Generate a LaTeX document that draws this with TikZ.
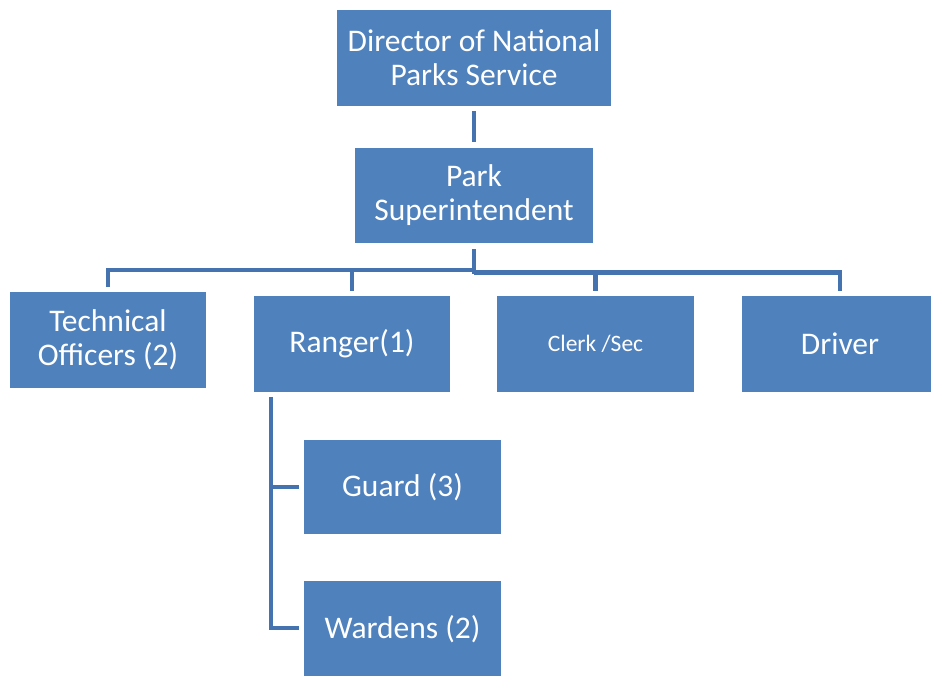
\documentclass[tikz,border=0pt]{standalone}
\usepackage{fontspec}
\setmainfont{Carlito}
\definecolor{boxblue}{HTML}{4F81BD}
\definecolor{lineblue}{HTML}{4473B0}
\begin{document}
\begin{tikzpicture}[x=1pt,y=1pt,
  box/.style={fill=boxblue,draw=none,text=white,align=center,inner sep=0pt,
    font=\fontsize{31.5}{34}\selectfont},
  conn/.style={draw=lineblue,line width=4.8pt}]
\clip (0,0) rectangle (931,675);
\fill[white] (0,0) rectangle (931,675);
\node[box,minimum width=274,minimum height=96] (dir) at (474,617) {Director of National\\Parks Service};
\node[box,minimum width=238,minimum height=95] (sup) at (474,479.5) {Park\\Superintendent};
\node[box,minimum width=196,minimum height=96] (tech) at (108,335) {Technical\\Officers (2)};
\node[box,minimum width=196,minimum height=96] (ranger) at (352,331) {Ranger(1)};
\node[box,minimum width=197,minimum height=96,font=\fontsize{23.5}{27}\selectfont] (clerk) at (595.5,331) {Clerk /Sec};
\node[box,minimum width=196,minimum height=96] (driver) at (840,331) {Driver};
\node[box,minimum width=197,minimum height=94] (guard) at (402.5,188) {Guard (3)};
\node[box,minimum width=197,minimum height=96] (wardens) at (402.5,46) {Wardens (2)};
\coordinate (busL) at (474,405);
\coordinate (busR) at (474,402.5);
\coordinate (rtop) at (271,278);
\draw[conn,shorten <=5pt,shorten >=6pt] (dir.south) -- (sup.north);
\draw[conn] ([yshift=-6pt]sup.south) -- ([yshift=-2pt]sup.south |- busR);
\draw[conn] ([yshift=5pt]tech.north) |- (busL);
\draw[conn] ([yshift=5pt]driver.north) |- (busR);
\draw[conn] ([yshift=5pt]ranger.north) -- (ranger.north |- busL);
\draw[conn] ([yshift=5pt]clerk.north) -- (clerk.north |- busR);
\draw[conn] (rtop) |- ([xshift=-5pt,yshift=1pt]wardens.west);
\draw[conn] ([xshift=-5pt]guard.west) -- (guard.west -| rtop);
\end{tikzpicture}
\end{document}
